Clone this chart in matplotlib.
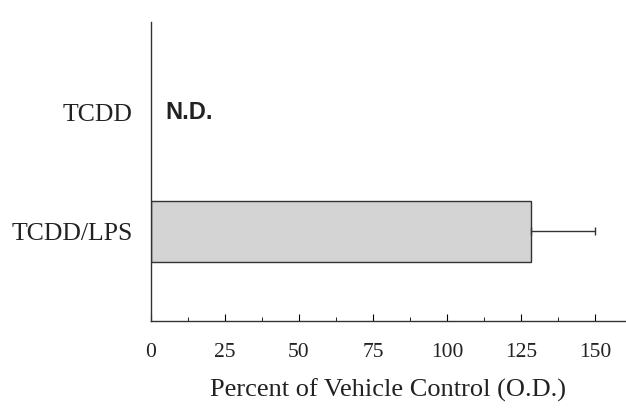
import matplotlib
matplotlib.use("Agg")
import matplotlib.pyplot as plt
from matplotlib.ticker import MultipleLocator

# data
groups = ["TCDD/LPS", "TCDD"]
values = [128.5, 0.0]
errors = [21.5, 0.0]
not_detected = [False, True]
xticks = [0, 25, 50, 75, 100, 125, 150]

fig = plt.figure(figsize=(6.26, 4.18), dpi=100)
ax = fig.add_axes([0.241, 0.233, 0.757, 0.714])

ypos = list(range(len(groups)))
for y, v, e, nd in zip(ypos, values, errors, not_detected):
    if nd:
        ax.text(5, y, "N.D.", fontsize=17, family="Liberation Sans", weight="bold",
                va="center", ha="left", color="#222222")
        continue
    ax.barh(y, v, height=0.51, color="#d4d4d4", edgecolor="#333333", linewidth=1.0)
    ax.errorbar(v, y, xerr=[[0], [e]], fmt="none", ecolor="#333333",
                elinewidth=1.0, capsize=3)

ax.set_xlim(0, 160)
ax.set_ylim(-0.75, 1.76)
ax.set_yticks(ypos)
ax.set_yticklabels(groups, family="Liberation Serif", fontsize=18.5, color="#222222")
ax.tick_params(axis="y", length=0, pad=13)

ax.set_xticks(xticks)
ax.set_xticklabels([str(t) for t in xticks], family="Liberation Serif", fontsize=15.5, color="#222222")
ax.xaxis.set_minor_locator(MultipleLocator(12.5))
ax.tick_params(axis="x", which="major", direction="in", length=5, pad=16)
ax.tick_params(axis="x", which="minor", direction="in", length=3)
ax.set_xlabel("Percent of Vehicle Control (O.D.)", family="Liberation Serif",
              fontsize=19, color="#222222", labelpad=12)

ax.spines["top"].set_visible(False)
ax.spines["right"].set_visible(False)
for s in ("left", "bottom"):
    ax.spines[s].set_color("#333333")
    ax.spines[s].set_linewidth(1.0)

fig.savefig("out.png", dpi=100)
